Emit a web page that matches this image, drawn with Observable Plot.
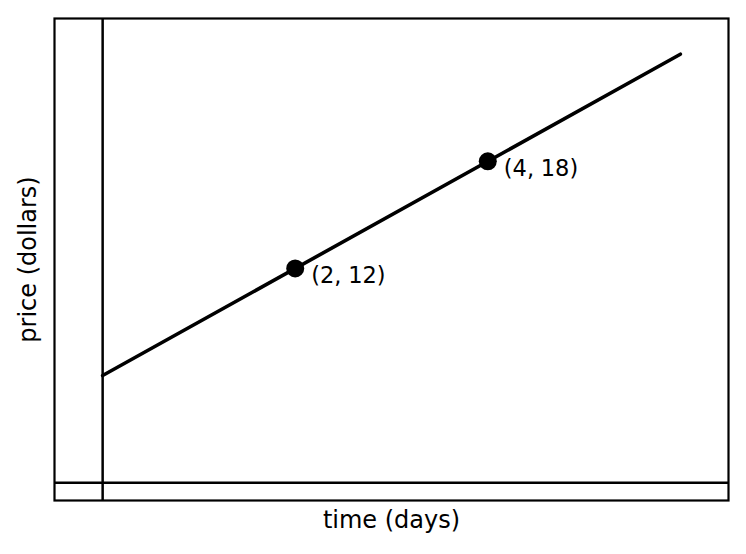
<!DOCTYPE html>
<html>
<head>
<meta charset="utf-8">
<script src="https://cdn.jsdelivr.net/npm/d3@7"></script>
<script src="https://cdn.jsdelivr.net/npm/@observablehq/plot@0.6"></script>
<style>
  html, body { margin: 0; padding: 0; background: #fff; }
  svg { display: block; }
</style>
</head>
<body>
<div id="chart"></div>
<script>
// Line endpoints (days, dollars)
const lineDays = [0, 6];
const linePrices = [6, 24];
// Labelled points
const pointDays = [2, 4];
const pointPrices = [12, 18];
const pointLabels = ["(2,\u2009\u200A12)", "(4,\u2009\u200A18)"];
const xLabel = "time (days)";
const yLabel = "price (dollars)";

const lineData = lineDays.map((d, i) => ({x: d, y: linePrices[i]}));
const pointData = pointDays.map((d, i) => ({x: d, y: pointPrices[i], label: pointLabels[i]}));

const font = "DejaVu Sans, sans-serif";

const chart = Plot.plot({
  width: 746,
  height: 554,
  marginTop: 18,
  marginBottom: 54,
  marginLeft: 54,
  marginRight: 18,
  style: {fontFamily: font, background: "#fff", color: "#000"},
  x: {domain: [-0.5, 6.5], axis: null},
  y: {domain: [-1, 26], axis: null},
  marks: [
    Plot.ruleX([0], {stroke: "#000", strokeWidth: 2.5}),
    Plot.ruleY([0], {stroke: "#000", strokeWidth: 2.5}),
    Plot.line(lineData, {x: "x", y: "y", stroke: "#000", strokeWidth: 3.6}),
    Plot.dot(pointData, {x: "x", y: "y", r: 9, fill: "#000", stroke: "none"}),
    Plot.text(pointData, {x: "x", y: "y", text: "label", textAnchor: "start", dx: 16, dy: 7, fontSize: 22.5, fill: "#000"}),
    Plot.frame({stroke: "#000", strokeWidth: 2.2}),
    Plot.text([xLabel], {frameAnchor: "bottom", textAnchor: "middle", dy: 27, fontSize: 24, fill: "#000"}),
    Plot.text([yLabel], {frameAnchor: "left", textAnchor: "middle", dx: -26, rotate: -90, fontSize: 24, fill: "#000"})
  ]
});
document.getElementById("chart").appendChild(chart);
</script>
</body>
</html>
